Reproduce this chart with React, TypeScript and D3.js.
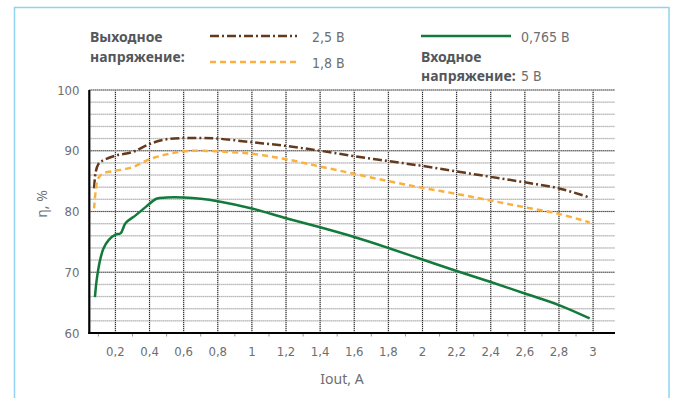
import React from "react";
import * as d3 from "d3";

// Efficiency vs output current, three output voltages at 5 V input
const xTicks = [0.2, 0.4, 0.6, 0.8, 1, 1.2, 1.4, 1.6, 1.8, 2, 2.2, 2.4, 2.6, 2.8, 3];
const yTicks = [60, 70, 80, 90, 100];

const iout25 = [0.075, 0.085, 0.1, 0.12, 0.2, 0.3, 0.4, 0.5, 0.6, 0.7, 0.8, 1.0, 1.2, 1.4, 1.6, 1.8, 2.0, 2.2, 2.4, 2.6, 2.8, 2.98];
const eff25 = [83.8, 86.6, 87.8, 88.3, 89.2, 89.8, 91.1, 91.9, 92.1, 92.1, 92.0, 91.4, 90.8, 90.0, 89.1, 88.3, 87.5, 86.6, 85.7, 84.8, 83.8, 82.3];

const iout18 = [0.075, 0.085, 0.1, 0.13, 0.2, 0.3, 0.4, 0.5, 0.6, 0.7, 0.8, 1.0, 1.2, 1.4, 1.6, 1.8, 2.0, 2.2, 2.4, 2.6, 2.8, 2.98];
const eff18 = [80.5, 83.5, 85.5, 86.3, 86.7, 87.3, 88.6, 89.4, 89.9, 90.0, 89.9, 89.5, 88.6, 87.4, 86.2, 85.0, 83.9, 82.9, 81.8, 80.7, 79.6, 78.2];

const iout0765 = [0.08, 0.09, 0.11, 0.13, 0.16, 0.2, 0.23, 0.26, 0.32, 0.38, 0.44, 0.5, 0.6, 0.7, 0.8, 1.0, 1.2, 1.4, 1.6, 1.8, 2.0, 2.2, 2.4, 2.6, 2.8, 2.98];
const eff0765 = [65.9, 68.7, 72.0, 73.9, 75.3, 76.2, 76.4, 78.1, 79.4, 80.8, 82.1, 82.3, 82.3, 82.1, 81.7, 80.5, 78.9, 77.4, 75.8, 74.0, 72.1, 70.2, 68.4, 66.5, 64.6, 62.4];

const series = [
  { name: "2,5 В", xs: iout25, ys: eff25, color: "#643a1c", dash: "9,3,2,3" },
  { name: "1,8 В", xs: iout18, ys: eff18, color: "#fbb040", dash: "6,4" },
  { name: "0,765 В", xs: iout0765, ys: eff0765, color: "#137a3c", dash: null as string | null },
];

const W = 673;
const H = 398;
const axisLeft = 89.3;
const axisRight = 615;

const x = d3.scaleLinear().domain([0, 3]).range([81.3, 593.1]);
const y = d3.scaleLinear().domain([60, 100]).range([333, 90]);

const tickFont = "'Liberation Sans Narrow', 'DejaVu Sans Condensed', sans-serif";
const legendFont = "'DejaVu Sans Condensed', 'Liberation Sans Narrow', sans-serif";
const boldFont = "'Noto Sans', 'Open Sans', sans-serif";
const textGray = "#6d6e71";
const darkGray = "#53575b";

export default function App() {
  const minorY = d3.range(62, 100, 2).filter((v) => v % 10 !== 0);
  const minorX = d3.range(1, 31, 2).map((v) => v / 10);
  const line = d3
    .line<[number, number]>()
    .x((d) => x(d[0]))
    .y((d) => y(d[1]))
    .curve(d3.curveCatmullRom.alpha(0.5));

  return (
    <svg width={W} height={H} style={{ position: "absolute", left: 0, top: 0, background: "#fff" }}>
      <rect x={14.5} y={7.5} width={654.5} height={400} fill="none" stroke="#8fd3f0" strokeWidth={1.5} />

      {/* minor horizontal grid */}
      {minorY.map((v) => (
        <g key={"my" + v}>
          <line x1={axisLeft} x2={axisRight} y1={y(v)} y2={y(v)} stroke="#e2e2e2" strokeWidth={1.5} />
          <line x1={axisLeft} x2={axisRight} y1={y(v)} y2={y(v)} stroke="#a8a8a8" strokeWidth={1} strokeDasharray="1,1" />
        </g>
      ))}
      {/* vertical grid */}
      {xTicks.map((v) => (
        <g key={"vx" + v}>
          <line x1={x(v)} x2={x(v)} y1={y(100)} y2={y(60)} stroke="#cfcfcf" strokeWidth={1.5} />
          <line x1={x(v)} x2={x(v)} y1={y(100)} y2={y(60)} stroke="#222" strokeWidth={1} strokeDasharray="1,1" />
        </g>
      ))}
      {/* major horizontal grid */}
      {yTicks.slice(1).map((v) => (
        <g key={"hy" + v}>
          <line x1={axisLeft} x2={axisRight} y1={y(v)} y2={y(v)} stroke="#cfcfcf" strokeWidth={1.5} />
          <line x1={axisLeft} x2={axisRight} y1={y(v)} y2={y(v)} stroke="#222" strokeWidth={1} strokeDasharray="1,1" />
        </g>
      ))}

      {/* axes */}
      <line x1={axisLeft} x2={axisLeft} y1={y(100)} y2={y(60) + 1} stroke="#000" strokeWidth={2.2} />
      <line x1={axisLeft - 1} x2={axisRight} y1={y(60)} y2={y(60)} stroke="#000" strokeWidth={2.2} />
      {minorX.map((v) => (
        <line key={"mt" + v} x1={x(v)} x2={x(v)} y1={y(60) + 1} y2={y(60) + 3.5} stroke="#999" strokeWidth={1} />
      ))}

      {/* tick labels */}
      {yTicks.map((v) => (
        <text key={"yl" + v} x={79.5} y={y(v)} dy="0.35em" textAnchor="end" fontFamily={tickFont} fontSize={13} fill={textGray}>
          {v}
        </text>
      ))}
      {xTicks.map((v) => (
        <text key={"xl" + v} x={x(v)} y={351} dy="0.35em" textAnchor="middle" fontFamily={tickFont} fontSize={13} fill={textGray}>
          {String(v).replace(".", ",")}
        </text>
      ))}

      {/* axis titles */}
      <text x={342} y={379} dy="0.35em" textAnchor="middle" fontFamily={boldFont} fontSize={14} fill={textGray}>
        Iout, A
      </text>
      <text
        transform="translate(42,204) rotate(-90)"
        dy="0.35em"
        textAnchor="middle"
        fontFamily={boldFont}
        fontSize={14}
        fill={textGray}
      >
        η, %
      </text>

      {/* curves */}
      {series.map((s) => (
        <path
          key={s.name}
          d={line(s.xs.map((v, i) => [v, s.ys[i]] as [number, number])) || ""}
          fill="none"
          stroke={s.color}
          strokeWidth={2.5}
          strokeDasharray={s.dash || undefined}
        />
      ))}

      {/* legend */}
      <text x={90} y={37} dy="0.35em" fontFamily={boldFont} fontWeight="bold" fontSize={14} fill={darkGray}>
        Выходное
      </text>
      <text x={90} y={57} dy="0.35em" fontFamily={boldFont} fontWeight="bold" fontSize={14} fill={darkGray}>
        напряжение:
      </text>
      <line x1={210} x2={297} y1={36} y2={36} stroke={series[0].color} strokeWidth={2.5} strokeDasharray={series[0].dash || undefined} />
      <text x={312} y={37} dy="0.35em" fontFamily={legendFont} fontSize={14} fill={textGray}>
        {series[0].name}
      </text>
      <line x1={210} x2={297} y1={62} y2={62} stroke={series[1].color} strokeWidth={2.5} strokeDasharray={series[1].dash || undefined} />
      <text x={312} y={63} dy="0.35em" fontFamily={legendFont} fontSize={14} fill={textGray}>
        {series[1].name}
      </text>
      <line x1={421} x2={511} y1={36} y2={36} stroke={series[2].color} strokeWidth={2.5} />
      <text x={521} y={37} dy="0.35em" fontFamily={legendFont} fontSize={14} fill={textGray}>
        {series[2].name}
      </text>
      <text x={421} y={57} dy="0.35em" fontFamily={boldFont} fontWeight="bold" fontSize={14} fill={darkGray}>
        Входное
      </text>
      <text x={421} y={76} dy="0.35em" fontFamily={boldFont} fontWeight="bold" fontSize={14} fill={darkGray}>
        напряжение:
      </text>
      <text x={521} y={76} dy="0.35em" fontFamily={legendFont} fontSize={14} fill={textGray}>
        5 В
      </text>
    </svg>
  );
}
